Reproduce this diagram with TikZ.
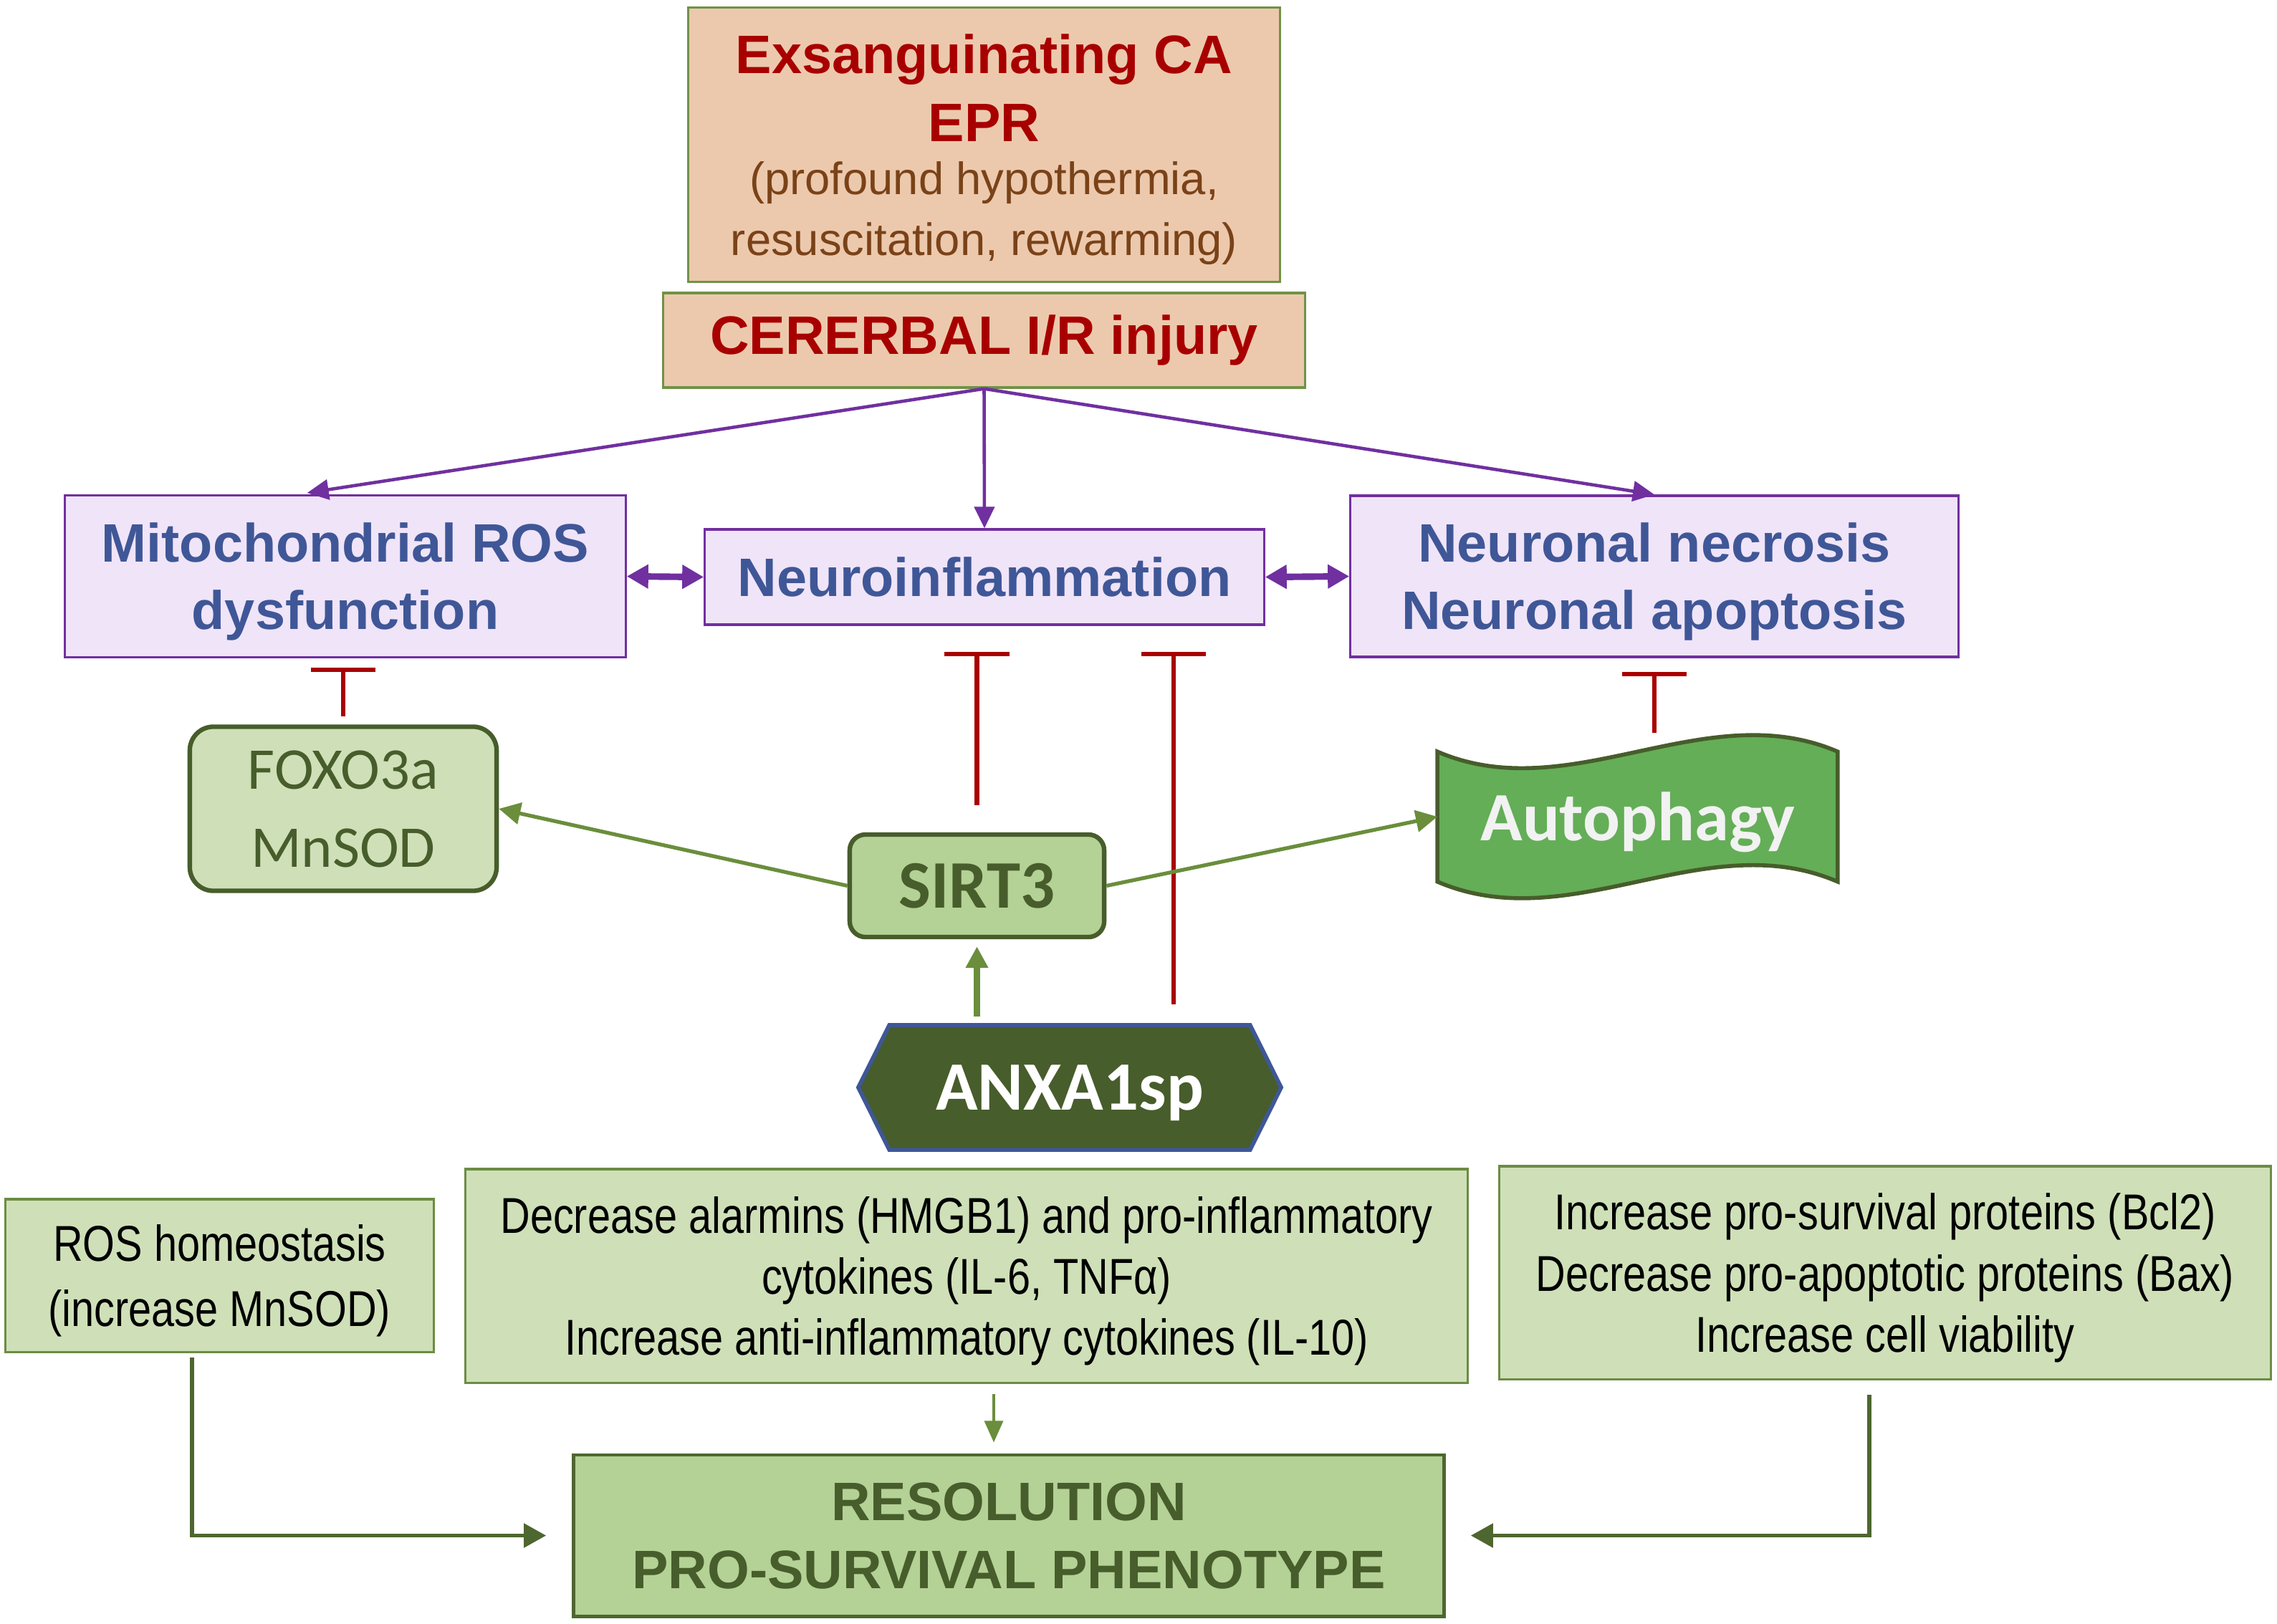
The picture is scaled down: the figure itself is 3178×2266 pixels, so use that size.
\documentclass[tikz,border=0pt]{standalone}
\usepackage{fontspec}
\setmainfont{Liberation Sans}
\newfontfamily\narrowfont[FakeStretch=0.82]{Liberation Sans}
\newfontfamily\calfont{Carlito}
\usetikzlibrary{arrows.meta,calc,shapes.symbols,backgrounds}
\definecolor{peach}{RGB}{236,201,173}
\definecolor{peachline}{RGB}{112,146,72}
\definecolor{redtxt}{RGB}{168,0,0}
\definecolor{browntxt}{RGB}{122,66,24}
\definecolor{lilac}{RGB}{240,228,248}
\definecolor{purp}{RGB}{112,48,160}
\definecolor{bluetxt}{RGB}{63,87,151}
\definecolor{mint}{RGB}{207,224,184}
\definecolor{mintline}{RGB}{108,140,68}
\definecolor{leaf}{RGB}{180,209,150}
\definecolor{darkgreen}{RGB}{71,93,43}
\definecolor{arrowgreen}{RGB}{106,142,60}
\definecolor{conngreen}{RGB}{78,102,48}
\definecolor{autogreen}{RGB}{100,174,87}
\definecolor{inhibred}{RGB}{168,0,0}
\newcommand{\redbf}{\color{redtxt}\fontsize{21.5}{24.2}\selectfont\bfseries}
\newcommand{\brownrm}{\color{browntxt}\fontsize{18}{24.2}\selectfont}

\begin{document}
\begin{tikzpicture}[x=0.01cm, y=-0.01cm,
    peachbox/.style={draw=peachline, fill=peach, line width=0.9pt, inner sep=0pt, align=center},
    lilacbox/.style={draw=purp, fill=lilac, line width=0.9pt, inner sep=0pt, align=center, text depth=0pt, text=bluetxt, font=\fontsize{21.5}{26.7}\selectfont\bfseries},
    mintbox/.style={draw=mintline, fill=mint, line width=0.9pt, inner sep=0pt, align=center, text depth=0pt, font=\narrowfont\fontsize{20}{24.2}\selectfont},
    roundbox/.style={draw=darkgreen, line width=1.8pt, inner sep=0pt, align=center, text=darkgreen},
    purparrow/.style={draw=purp, line width=1.3pt, -{Triangle[length=0.3cm,width=0.28cm]}},
    twoway/.style={draw=purp, line width=2.6pt, {Triangle[length=0.3cm,width=0.32cm]}-{Triangle[length=0.3cm,width=0.32cm]}},
    inhib/.style={draw=inhibred, line width=1.8pt, -{Bar[width=0.9cm]}},
    gogreen/.style={draw=arrowgreen, line width=1.5pt, -{Triangle[length=0.3cm,width=0.3cm]}},
    conn/.style={draw=conngreen, line width=1.5pt, -{Triangle[length=0.31cm,width=0.33cm]}}]
        \useasboundingbox (0,0) rectangle (3178,2266);
        \node[peachbox, text depth=0pt, minimum width=8.25cm, minimum height=3.82cm, font=\fontsize{18}{24.2}\selectfont] (cause) at (1373.5,202) {\redbf Exsanguinating CA\\[2.8pt] \redbf EPR\\[-3.2pt] \brownrm (profound hypothermia,\\ \brownrm resuscitation, rewarming)};
        \node[peachbox, minimum width=8.96cm, minimum height=1.32cm, text=redtxt, font=\fontsize{21.5}{24.2}\selectfont\bfseries] (injury) at (1373.5,475) {CERERBAL I/R injury};
        \node[lilacbox, minimum width=7.82cm, minimum height=2.26cm] (mito) at (482,804.5) {Mitochondrial ROS\\ dysfunction};
        \node[lilacbox, minimum width=7.80cm, minimum height=1.33cm] (neuro) at (1374,805.5) {Neuroinflammation};
        \node[lilacbox, minimum width=8.48cm, minimum height=2.25cm] (neuronal) at (2309,804.5) {Neuronal necrosis\\ Neuronal apoptosis};
        \node[roundbox, fill=mint, rounded corners=0.33cm, minimum width=4.28cm, minimum height=2.29cm, font=\calfont\fontsize{23.5}{31}\selectfont] (foxo) at (479,1129) {FOXO3a\\ MnSOD};
        \node[roundbox, fill=leaf, rounded corners=0.22cm, minimum width=3.55cm, minimum height=1.43cm, font=\calfont\fontsize{27}{30}\selectfont\bfseries] (sirt3) at (1363.5,1236.5) {SIRT3};
        \node[minimum width=5.57cm, minimum height=1.80cm, inner sep=0pt, text depth=0pt, text=white!95!black, font=\calfont\fontsize{27.5}{30}\selectfont\bfseries] (autoph) at (2285.5,1140) {Autophagy};
        \begin{scope}[on background layer]
            \draw[draw=darkgreen, fill=autogreen, line width=1.6pt] (autoph.north west) .. controls +(186,80) and +(-186,-80) .. (autoph.north east) -- (autoph.south east) .. controls +(-186,-80) and +(186,80) .. (autoph.south west) -- cycle;
        \end{scope}
        \node[signal, signal to=east and west, signal pointer angle=127, draw=bluetxt, fill=darkgreen, line width=1.6pt, inner sep=0pt, text depth=0pt, minimum width=5.9cm, minimum height=1.74cm, text=white, font=\calfont\fontsize{27.5}{30}\selectfont\bfseries] (anxa) at (1493,1518) {ANXA1sp};
        \node[mintbox, minimum width=5.97cm, minimum height=2.13cm, font=\narrowfont\fontsize{20}{26}\selectfont] (ros) at (306.5,1780.5) {ROS homeostasis\\ (increase MnSOD)};
        \node[mintbox, minimum width=13.98cm, minimum height=2.98cm] (alarm) at (1349,1781) {Decrease alarmins (HMGB1) and pro-inflammatory\\ cytokines (IL-6, TNFα)\\ Increase anti-inflammatory cytokines (IL-10)};
        \node[mintbox, minimum width=10.76cm, minimum height=2.97cm, font=\narrowfont\fontsize{20}{24.4}\selectfont] (surv) at (2631,1776.5) {Increase pro-survival proteins (Bcl2)\\ Decrease pro-apoptotic proteins (Bax)\\ Increase cell viability};
        \node[draw=conngreen, fill=leaf, line width=1.4pt, inner sep=0pt, align=center, minimum width=12.14cm, minimum height=2.25cm, text=darkgreen, font=\fontsize{21.5}{27}\selectfont\bfseries] (resol) at (1408,2143.5) {RESOLUTION\\ PRO-SURVIVAL PHENOTYPE};
        \draw[purparrow] (injury.south) -- (neuro.north);
        \draw[purparrow, shorten >=0.12cm] (injury.south) -- ($(mito.north west)!0.417!(mito.north east)$);
        \draw[purparrow] (injury.south) -- (neuronal.north);
        \draw[twoway] (mito.east) -- (neuro.west);
        \draw[twoway] (neuro.east) -- (neuronal.west);
        \draw[inhib, shorten <=0.11cm, shorten >=0.13cm] (foxo.north) -- (foxo.north |- mito.south);
        \draw[inhib, shorten <=0.38cm, shorten >=0.36cm] (sirt3.north) -- (sirt3.north |- neuro.south);
        \coordinate (anxaR) at ($(anxa.north)+(145,0)$);
        \draw[inhib, shorten <=0.26cm, shorten >=0.36cm] (anxaR) -- (anxaR |- neuro.south);
        \draw[inhib, shorten <=0.26cm, shorten >=0.19cm] (neuronal.south |- autoph.north) -- (neuronal.south);
        \draw[gogreen] (sirt3.west) -- (foxo.east);
        \draw[gogreen] (sirt3.east) -- (autoph.west);
        \draw[gogreen, line width=2.8pt, shorten <=0.09cm, shorten >=0.1cm] (sirt3.south |- anxa.north) -- (sirt3.south);
        \coordinate (alarmout) at ($(alarm.south)+(38,0)$);
        \draw[conn, draw=arrowgreen, line width=0.9pt, -{Triangle[length=0.3cm,width=0.26cm]}, shorten <=0.14cm, shorten >=0.15cm] (alarmout) -- (alarmout |- resol.north);
        \coordinate (rosout) at ($(ros.south)+(-38.5,6)$);
        \draw[conn, shorten >=0.36cm] (rosout) |- (resol.west);
        \coordinate (survout) at ($(surv.south)+(-22,20)$);
        \draw[conn, shorten >=0.35cm] (survout) |- (resol.east);
\end{tikzpicture}
\end{document}
